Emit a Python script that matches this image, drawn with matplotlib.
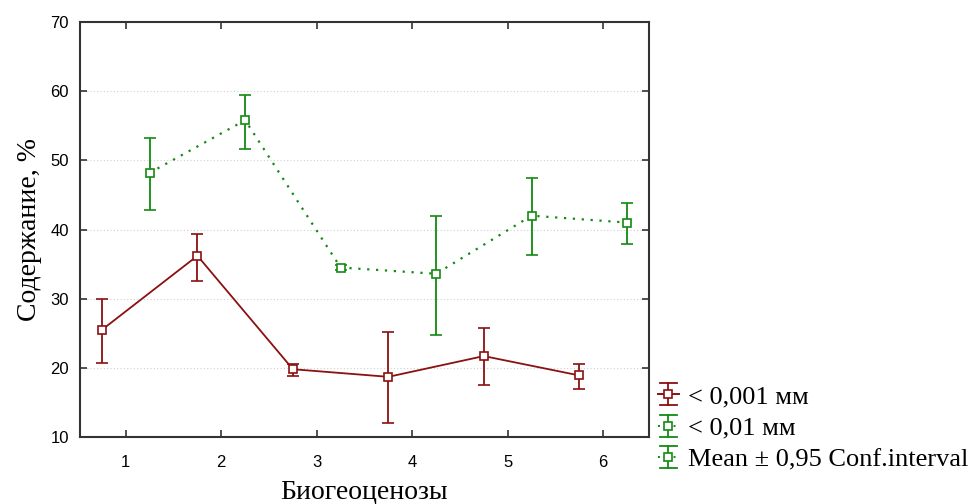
import matplotlib
matplotlib.use("Agg")
import matplotlib.pyplot as plt
from matplotlib.lines import Line2D
from matplotlib.legend_handler import HandlerBase
import numpy as np

# Биогеоценозы 1..6
sites = [1, 2, 3, 4, 5, 6]
x_ticks = [1, 2, 3, 4, 5, 6]
y_ticks = [10, 20, 30, 40, 50, 60, 70]

# Fraction < 0,001 мм : mean, lower and upper 95% CI bounds
fine_mean = [25.5, 36.2, 19.8, 18.7, 21.7, 18.9]
fine_low = [20.7, 32.6, 18.8, 12.0, 17.5, 16.9]
fine_high = [29.9, 39.3, 20.5, 25.2, 25.7, 20.5]

# Fraction < 0,01 мм
coarse_mean = [48.2, 55.8, 34.5, 33.6, 42.0, 41.0]
coarse_low = [42.8, 51.7, 34.2, 24.8, 36.3, 37.9]
coarse_high = [53.3, 59.4, 34.8, 41.9, 47.5, 43.8]

labels = ["< 0,001 мм", "< 0,01 мм", "Mean ± 0,95 Conf.interval"]

red = "#8b1010"
green = "#138a13"
DOTTED = (0, (1, 3))


class ErrorbarKey(HandlerBase):
    """Legend key: vertical whisker with caps, a marker and the series line."""

    def __init__(self, color, ls, half_h=8.0, **kw):
        super().__init__(**kw)
        self.color = color
        self.ls = ls
        self.half_h = half_h

    def create_artists(self, legend, orig_handle, xdescent, ydescent,
                       width, height, fontsize, trans):
        cx = width / 2 - xdescent
        cy = height / 2 - ydescent
        w = width / 2
        h = self.half_h
        arts = [
            Line2D([cx - w, cx + w], [cy, cy], color=self.color, lw=1.4,
                   ls=self.ls),
            Line2D([cx, cx], [cy - h, cy + h], color=self.color, lw=1.3),
            Line2D([cx - w * 0.8, cx + w * 0.8], [cy + h, cy + h],
                   color=self.color, lw=1.3),
            Line2D([cx - w * 0.8, cx + w * 0.8], [cy - h, cy - h],
                   color=self.color, lw=1.3),
            Line2D([cx], [cy], marker="s", ms=5.5, mfc="white",
                   mec=self.color, mew=1.2, ls="none"),
        ]
        for a in arts:
            a.set_transform(trans)
        return arts


fig = plt.figure(figsize=(9.78, 5.04), dpi=100)
ax = fig.add_axes([80 / 978, 1 - 437 / 504, (649 - 80) / 978, (437 - 22) / 504])

xs = np.array(sites, dtype=float)
fm = np.array(fine_mean)
cm = np.array(coarse_mean)

e1 = ax.errorbar(xs - 0.25, fm,
                 yerr=[fm - np.array(fine_low), np.array(fine_high) - fm],
                 color=red, lw=1.3, ls="-", marker="s", ms=5.5,
                 mfc="white", mec=red, mew=1.2, capsize=4, capthick=1.2,
                 elinewidth=1.3, zorder=3)
e2 = ax.errorbar(xs + 0.25, cm,
                 yerr=[cm - np.array(coarse_low), np.array(coarse_high) - cm],
                 color=green, lw=1.6, ls=DOTTED, marker="s", ms=5.5,
                 mfc="white", mec=green, mew=1.2, capsize=4, capthick=1.2,
                 elinewidth=1.3, zorder=3)
for bars in e2[2]:
    bars.set_linestyle("-")

ax.set_xlim(0.52, 6.48)
ax.set_ylim(10, 70)
ax.set_xticks(x_ticks)
ax.set_yticks(y_ticks)
ax.yaxis.grid(True, color="#d0d0d0", ls=(0, (1, 2)), lw=0.8)
ax.set_axisbelow(True)

for sp in ax.spines.values():
    sp.set_linewidth(1.5)
    sp.set_color("#333333")
ax.tick_params(direction="in", top=True, right=True, length=5, width=1.2,
               color="#333333", labelsize=12, pad=8)
for t in ax.get_xticklabels() + ax.get_yticklabels():
    t.set_fontfamily("Liberation Sans")
ax.tick_params(axis="x", pad=13)

ax.set_xlabel("Биогеоценозы", fontfamily="Liberation Serif", fontsize=20,
              labelpad=7)
ax.set_ylabel("Содержание, %", fontfamily="Liberation Serif", fontsize=20,
              labelpad=6)

# Legend placed to the right of the plotting area
key_mean = Line2D([], [])
fig.legend([e1, e2, key_mean], labels, loc="upper left",
           bbox_to_anchor=(658 / 978, 1 - 385 / 504),
           frameon=False, handlelength=0.78, handletextpad=0.34,
           labelspacing=0.3, borderpad=0, borderaxespad=0,
           prop={"family": "Liberation Serif", "size": 19},
           handler_map={e1: ErrorbarKey(red, "-"),
                        e2: ErrorbarKey(green, DOTTED),
                        key_mean: ErrorbarKey(green, DOTTED)})

fig.savefig("out.png", dpi=100)
